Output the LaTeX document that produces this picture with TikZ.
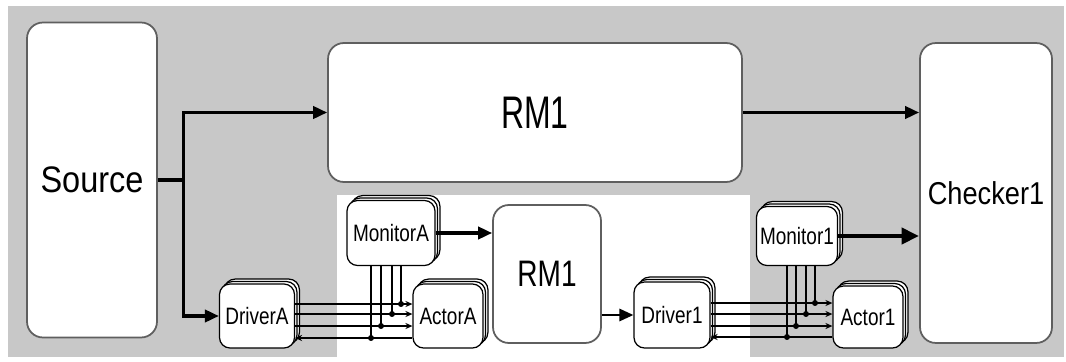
\documentclass[tikz,border=0pt]{standalone}
\usepackage{fontspec}
\setmainfont{Liberation Sans}
\usepackage{graphicx}
\usepackage{xcolor}
\definecolor{panelgray}{RGB}{200,200,200}
\definecolor{boxgray}{RGB}{95,95,95}
\usetikzlibrary{arrows.meta, positioning, calc, shadows}
\newcommand{\sqz}[2]{\scalebox{#1}[1]{#2}}

\begin{document}
\begin{tikzpicture}[x=0.02cm, y=-0.02cm, >=Stealth,
    bigbox/.style={draw=boxgray, line width=1pt, fill=white, rounded corners=9pt, inner sep=0pt},
    unitbox/.style={draw=black, line width=0.7pt, fill=white, rounded corners=6pt, inner sep=0pt,
        double copy shadow={shadow xshift=1.4pt, shadow yshift=1.4pt}, font=\fontsize{13.5}{15}\selectfont},
    flow/.style={line width=1.8pt, -{Triangle[length=8pt, width=7pt]}},
    bus/.style={line width=0.7pt, >={Stealth[length=4pt, width=3.5pt]}}]

    % background panels
    \useasboundingbox (0,0) rectangle (1066,362);
    \fill[panelgray] (8,6) rectangle (1064,357);
    \fill[white] (337,195) rectangle (750,362);

    % big blocks
    \node[bigbox, minimum width=2.6cm, minimum height=6.3cm, font=\fontsize{21}{23}\selectfont]
        (source) at (92,180) {\sqz{0.88}{Source}};
    \node[bigbox, minimum width=8.28cm, minimum height=2.78cm, font=\fontsize{26}{28}\selectfont]
        (rmtop) at (535,112.5) {\sqz{0.7}{RM1}};
    \node[bigbox, minimum width=2.64cm, minimum height=6cm, font=\fontsize{18}{20}\selectfont]
        (checker) at (986,193) {\sqz{0.86}{Checker1}};
    \node[bigbox, minimum width=2.16cm, minimum height=2.76cm, font=\fontsize{21}{23}\selectfont]
        (rmmid) at (547,274) {\sqz{0.76}{RM1}};

    % agents
    \node[unitbox, minimum width=1.5cm, minimum height=1.28cm] (driverA) at (257,316) {\sqz{0.8}{DriverA}};
    \node[unitbox, minimum width=1.76cm, minimum height=1.3cm] (monitorA) at (391,233) {\sqz{0.8}{MonitorA}};
    \node[unitbox, minimum width=1.4cm, minimum height=1.28cm] (actorA) at (448,316) {\sqz{0.8}{ActorA}};
    \node[unitbox, minimum width=1.52cm, minimum height=1.32cm] (driver1) at (672,315) {\sqz{0.8}{Driver1}};
    \node[unitbox, minimum width=1.62cm, minimum height=1.18cm] (monitor1) at (797,236) {\sqz{0.8}{Monitor1}};
    \node[unitbox, minimum width=1.4cm, minimum height=1.24cm] (actor1) at (868,317) {\sqz{0.8}{Actor1}};

    % main flow
    \coordinate[right=0.52cm of source.east] (split);
    \draw[line width=1.8pt] (source.east) -- (split);
    \draw[flow] (split) |- (rmtop.west);
    \draw[flow] (split) |- (driverA.west);
    \draw[flow] (rmtop.east) -- (rmtop.east -| checker.west);
    \draw[flow] (monitorA.east) -- (monitorA.east -| rmmid.west);
    \draw[flow, line width=1.3pt] (driver1.west -| rmmid.east) -- (driver1.west);
    \draw[line width=2.8pt, -{Triangle[length=10pt, width=9pt]}] (monitor1.east) -- (monitor1.east -| checker.west);

    % wires driverA - actorA, tapped by monitorA
    \foreach \dy/\dx in {-12/10, -2/1, 10/-10} {
        \draw[bus, ->] ($(driverA.east)+(0,\dy)$) coordinate (w) -- (w -| actorA.west);
        \draw[bus] ($(monitorA.south)+(\dx,0)$) coordinate (t) -- (t |- w);
        \fill (t |- w) circle (1.7pt);
    }
    \draw[bus, <-] ($(driverA.east)+(0,22)$) coordinate (w) -- (w -| actorA.west);
    \draw[bus] ($(monitorA.south)+(-20,0)$) coordinate (t) -- (t |- w);
    \fill (t |- w) circle (1.7pt);

    % wires driver1 - actor1, tapped by monitor1
    \foreach \dy/\dx in {-12/18, -1/9, 11/-1} {
        \draw[bus, ->] ($(driver1.east)+(0,\dy)$) coordinate (w) -- (w -| actor1.west);
        \draw[bus] ($(monitor1.south)+(\dx,0)$) coordinate (t) -- (t |- w);
        \fill (t |- w) circle (1.7pt);
    }
    \draw[bus, <-] ($(driver1.east)+(0,22)$) coordinate (w) -- (w -| actor1.west);
    \draw[bus] ($(monitor1.south)+(-10,0)$) coordinate (t) -- (t |- w);
    \fill (t |- w) circle (1.7pt);
\end{tikzpicture}
\end{document}
